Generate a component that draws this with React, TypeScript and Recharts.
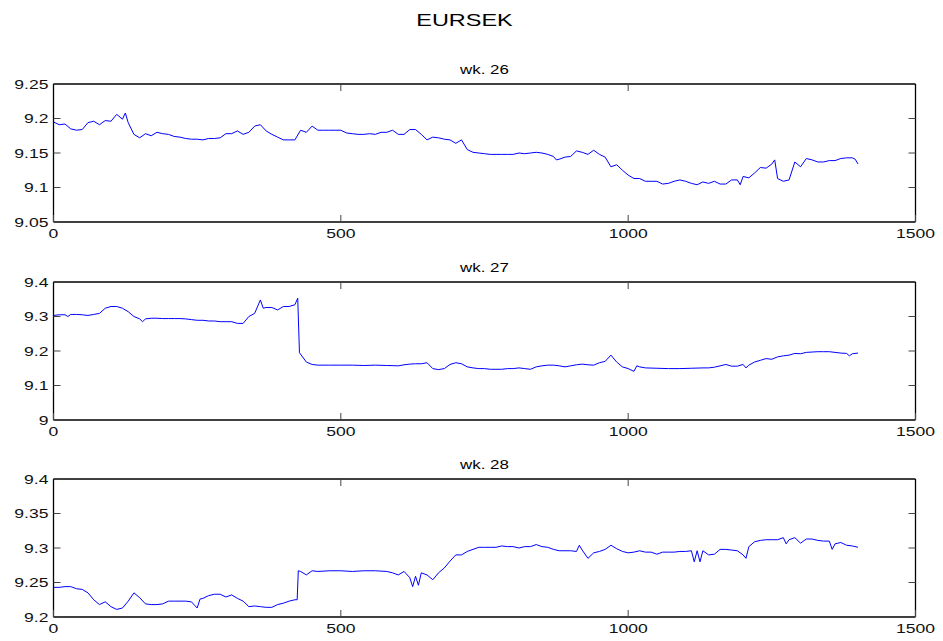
import React from "react";
import { LineChart, Line, XAxis, YAxis } from "recharts";

// sample index (minutes into the week) and EURSEK quotes
const wk26T = [0, 10, 20, 30, 40, 50, 60, 70, 80, 90, 100, 110, 120, 125, 130, 140, 150, 160, 170, 180, 190, 200, 210, 220, 230, 240, 250, 260, 270, 280, 290, 300, 310, 320, 330, 340, 350, 360, 370, 380, 390, 400, 410, 420, 430, 440, 450, 460, 470, 480, 490, 500, 510, 520, 530, 540, 550, 560, 570, 580, 590, 600, 610, 620, 630, 640, 650, 660, 670, 680, 690, 700, 710, 720, 730, 740, 750, 760, 770, 780, 790, 800, 810, 820, 830, 840, 850, 860, 870, 875, 880, 890, 900, 910, 920, 930, 940, 950, 960, 970, 980, 990, 1000, 1010, 1020, 1030, 1040, 1050, 1060, 1070, 1080, 1090, 1100, 1110, 1120, 1130, 1140, 1150, 1160, 1170, 1180, 1190, 1195, 1200, 1210, 1220, 1230, 1240, 1250, 1255, 1260, 1270, 1280, 1290, 1300, 1310, 1320, 1330, 1340, 1350, 1360, 1370, 1380, 1390, 1395, 1400];
const wk26V = [9.195, 9.191, 9.192, 9.185, 9.183, 9.184, 9.194, 9.196, 9.191, 9.197, 9.196, 9.206, 9.199, 9.208, 9.194, 9.177, 9.172, 9.178, 9.175, 9.18, 9.178, 9.177, 9.174, 9.173, 9.171, 9.17, 9.17, 9.169, 9.171, 9.171, 9.172, 9.178, 9.178, 9.182, 9.177, 9.18, 9.189, 9.191, 9.182, 9.177, 9.173, 9.169, 9.169, 9.169, 9.183, 9.18, 9.189, 9.183, 9.183, 9.183, 9.183, 9.183, 9.179, 9.178, 9.177, 9.177, 9.178, 9.177, 9.18, 9.18, 9.183, 9.177, 9.177, 9.184, 9.184, 9.177, 9.169, 9.173, 9.172, 9.17, 9.169, 9.164, 9.169, 9.155, 9.151, 9.15, 9.149, 9.148, 9.148, 9.148, 9.148, 9.148, 9.15, 9.149, 9.15, 9.151, 9.15, 9.148, 9.145, 9.14, 9.141, 9.144, 9.145, 9.153, 9.151, 9.148, 9.154, 9.148, 9.144, 9.13, 9.133, 9.125, 9.118, 9.113, 9.113, 9.109, 9.109, 9.109, 9.105, 9.106, 9.109, 9.111, 9.109, 9.106, 9.104, 9.108, 9.106, 9.109, 9.105, 9.105, 9.111, 9.111, 9.104, 9.116, 9.114, 9.121, 9.129, 9.128, 9.134, 9.14, 9.113, 9.109, 9.111, 9.137, 9.13, 9.142, 9.14, 9.137, 9.137, 9.139, 9.139, 9.142, 9.143, 9.143, 9.141, 9.134];

const wk27T = [0, 10, 20, 25, 30, 40, 50, 60, 70, 80, 90, 100, 110, 120, 130, 140, 150, 155, 160, 170, 180, 190, 200, 210, 220, 230, 240, 250, 260, 270, 280, 290, 300, 310, 320, 330, 340, 350, 360, 365, 370, 380, 390, 400, 410, 420, 425, 428, 440, 450, 460, 480, 500, 520, 540, 560, 580, 600, 610, 620, 630, 640, 650, 660, 670, 680, 690, 700, 710, 720, 730, 740, 750, 760, 770, 780, 790, 800, 810, 820, 830, 840, 850, 860, 870, 880, 890, 900, 910, 920, 930, 940, 950, 960, 970, 980, 990, 1000, 1010, 1015, 1020, 1030, 1050, 1070, 1090, 1110, 1130, 1140, 1150, 1160, 1170, 1180, 1190, 1200, 1205, 1210, 1220, 1230, 1240, 1250, 1260, 1270, 1280, 1290, 1300, 1310, 1320, 1330, 1340, 1350, 1360, 1370, 1380, 1385, 1390, 1400];
const wk27V = [9.303, 9.305, 9.305, 9.3, 9.306, 9.306, 9.305, 9.303, 9.306, 9.309, 9.324, 9.329, 9.329, 9.324, 9.314, 9.3, 9.293, 9.285, 9.293, 9.295, 9.295, 9.294, 9.294, 9.294, 9.294, 9.293, 9.291, 9.289, 9.289, 9.287, 9.287, 9.285, 9.285, 9.285, 9.28, 9.28, 9.3, 9.309, 9.348, 9.324, 9.326, 9.326, 9.319, 9.329, 9.329, 9.334, 9.353, 9.195, 9.168, 9.161, 9.159, 9.159, 9.159, 9.159, 9.158, 9.159, 9.158, 9.157, 9.16, 9.162, 9.163, 9.163, 9.166, 9.149, 9.146, 9.149, 9.161, 9.166, 9.163, 9.154, 9.151, 9.149, 9.149, 9.147, 9.147, 9.147, 9.149, 9.149, 9.151, 9.149, 9.147, 9.154, 9.157, 9.159, 9.159, 9.157, 9.154, 9.157, 9.16, 9.162, 9.16, 9.159, 9.166, 9.17, 9.188, 9.168, 9.154, 9.149, 9.141, 9.157, 9.154, 9.151, 9.15, 9.149, 9.149, 9.15, 9.151, 9.151, 9.153, 9.157, 9.161, 9.156, 9.156, 9.161, 9.151, 9.159, 9.168, 9.173, 9.178, 9.176, 9.183, 9.186, 9.188, 9.193, 9.192, 9.196, 9.197, 9.198, 9.198, 9.198, 9.196, 9.194, 9.193, 9.186, 9.192, 9.194];

const wk28T = [0, 10, 20, 30, 40, 50, 60, 70, 80, 90, 100, 110, 120, 130, 140, 150, 160, 170, 180, 190, 200, 210, 220, 230, 240, 250, 255, 260, 270, 280, 290, 300, 310, 320, 330, 340, 350, 360, 370, 380, 390, 400, 410, 420, 424, 426, 430, 440, 450, 460, 480, 500, 520, 540, 560, 580, 590, 600, 610, 620, 625, 630, 635, 640, 650, 660, 670, 680, 690, 700, 710, 720, 730, 740, 750, 760, 770, 780, 790, 800, 810, 820, 830, 840, 850, 860, 870, 880, 890, 900, 910, 915, 920, 930, 940, 950, 960, 970, 980, 990, 1000, 1010, 1020, 1030, 1040, 1050, 1060, 1070, 1080, 1090, 1100, 1110, 1115, 1120, 1125, 1130, 1140, 1150, 1160, 1170, 1180, 1190, 1200, 1205, 1210, 1220, 1230, 1240, 1250, 1260, 1270, 1275, 1280, 1290, 1300, 1310, 1320, 1330, 1340, 1350, 1355, 1360, 1370, 1380, 1390, 1400];
const wk28V = [9.243, 9.243, 9.244, 9.244, 9.241, 9.24, 9.235, 9.225, 9.218, 9.222, 9.215, 9.211, 9.213, 9.223, 9.235, 9.228, 9.219, 9.218, 9.218, 9.219, 9.223, 9.223, 9.223, 9.223, 9.222, 9.213, 9.226, 9.227, 9.231, 9.233, 9.233, 9.229, 9.232, 9.227, 9.223, 9.215, 9.216, 9.215, 9.214, 9.214, 9.218, 9.22, 9.223, 9.225, 9.225, 9.267, 9.266, 9.261, 9.267, 9.266, 9.267, 9.267, 9.266, 9.267, 9.267, 9.266, 9.264, 9.261, 9.266, 9.257, 9.244, 9.259, 9.246, 9.264, 9.261, 9.254, 9.264, 9.271, 9.281, 9.29, 9.29, 9.295, 9.298, 9.301, 9.301, 9.301, 9.301, 9.303, 9.302, 9.302, 9.3, 9.302, 9.302, 9.305, 9.302, 9.301, 9.298, 9.296, 9.296, 9.296, 9.295, 9.304, 9.297, 9.285, 9.293, 9.295, 9.298, 9.304, 9.299, 9.295, 9.293, 9.294, 9.296, 9.294, 9.294, 9.291, 9.294, 9.294, 9.294, 9.295, 9.295, 9.296, 9.28, 9.296, 9.28, 9.296, 9.29, 9.291, 9.298, 9.298, 9.297, 9.296, 9.29, 9.285, 9.302, 9.309, 9.311, 9.312, 9.312, 9.312, 9.315, 9.306, 9.312, 9.315, 9.307, 9.313, 9.313, 9.311, 9.31, 9.31, 9.298, 9.306, 9.308, 9.304, 9.303, 9.301];

const xTicks = [0, 500, 1000, 1500];
const wk26Ticks = [9.05, 9.1, 9.15, 9.2, 9.25];
const wk27Ticks = [9, 9.1, 9.2, 9.3, 9.4];
const wk28Ticks = [9.2, 9.25, 9.3, 9.35, 9.4];

const FONT = "'Liberation Sans', Arial, Helvetica, sans-serif";
const SX = 1.35; // the original text is stretched horizontally
const TICK = 7; // inward tick length
const TICK_COLOR = "#444";

// ticks point into the plot, MATLAB style; each tick draws its own line
const LeftTick = ({ x, y, payload }: any) => (
  <g>
    <line x1={x + 5} x2={x + 5 + TICK} y1={y} y2={y} stroke={TICK_COLOR} />
    <text
      x={x}
      y={y}
      dy="0.35em"
      textAnchor="end"
      fontSize={13}
      fontFamily={FONT}
      fill="#111"
      transform={`translate(${x} 0) scale(${SX} 1) translate(${-x} 0)`}
    >
      {payload.value}
    </text>
  </g>
);

const BottomTick = ({ x, y, payload }: any) => (
  <g>
    <line x1={x} x2={x} y1={y - 7} y2={y - 7 - TICK} stroke={TICK_COLOR} />
    <text
      x={x}
      y={y}
      dy="0.71em"
      textAnchor="middle"
      fontSize={13}
      fontFamily={FONT}
      fill="#111"
      transform={`translate(${x} 0) scale(${SX} 1) translate(${-x} 0)`}
    >
      {payload.value}
    </text>
  </g>
);

const TopTick = ({ x, y }: any) => (
  <line x1={x} x2={x} y1={y} y2={y + TICK} stroke={TICK_COLOR} />
);

const RightTick = ({ x, y }: any) => (
  <line x1={x} x2={x - TICK} y1={y} y2={y} stroke={TICK_COLOR} />
);

interface PanelProps {
  t: number[];
  v: number[];
  ticks: number[];
  top: number;
}

function Panel({ t, v, ticks, top }: PanelProps) {
  const data = t.map((x, i) => ({ t: x, v: v[i] }));
  const domain = [ticks[0], ticks[ticks.length - 1]];
  const axisLine = { stroke: "#000", strokeWidth: 1.3 };
  return (
    <div style={{ position: "absolute", left: 0, top, width: 943, height: 191 }}>
      <LineChart
        width={943}
        height={191}
        data={data}
        margin={{ top: 23, right: 26.5, bottom: 0, left: 0 }}
      >
        <XAxis
          dataKey="t"
          type="number"
          domain={[0, 1500]}
          ticks={xTicks}
          interval={0}
          height={29}
          axisLine={axisLine}
          tickLine={false}
          tickSize={0}
          tickMargin={7}
          tick={<BottomTick />}
        />
        <XAxis
          xAxisId="top"
          dataKey="t"
          orientation="top"
          type="number"
          domain={[0, 1500]}
          ticks={[500, 1000]}
          interval={0}
          height={1}
          axisLine={axisLine}
          tickLine={false}
          tickSize={0}
          tickMargin={0}
          tick={<TopTick />}
        />
        <YAxis
          type="number"
          domain={domain}
          ticks={ticks}
          interval={0}
          width={53.5}
          axisLine={axisLine}
          tickLine={false}
          tickSize={0}
          tickMargin={5}
          tick={<LeftTick />}
        />
        <YAxis
          yAxisId="right"
          orientation="right"
          type="number"
          domain={domain}
          ticks={ticks.slice(1, -1)}
          interval={0}
          width={1}
          axisLine={axisLine}
          tickLine={false}
          tickSize={0}
          tickMargin={0}
          tick={<RightTick />}
        />
        {/* invisible copy so the top and right axes have a series */}
        <Line
          xAxisId="top"
          yAxisId="right"
          dataKey="v"
          stroke="none"
          dot={false}
          activeDot={false}
          isAnimationActive={false}
        />
        <Line
          type="linear"
          dataKey="v"
          stroke="#0000ff"
          strokeWidth={1}
          dot={false}
          isAnimationActive={false}
        />
      </LineChart>
    </div>
  );
}

export default function App() {
  return (
    <div
      style={{
        position: "absolute",
        left: 0,
        top: 0,
        width: 943,
        height: 641,
        background: "#fff",
        overflow: "hidden",
      }}
    >
      <Panel t={wk26T} v={wk26V} ticks={wk26Ticks} top={60} />
      <Panel t={wk27T} v={wk27V} ticks={wk27Ticks} top={258} />
      <Panel t={wk28T} v={wk28V} ticks={wk28Ticks} top={455} />

      {/* figure title and subplot titles */}
      <svg
        width={943}
        height={641}
        style={{ position: "absolute", left: 0, top: 0, pointerEvents: "none" }}
      >
        <g fontFamily={FONT} fill="#000" textAnchor="middle">
          <text x={464.5} y={25.7} fontSize={17} transform="translate(464.5 0) scale(1.38 1) translate(-464.5 0)">
            EURSEK
          </text>
          <text x={484.5} y={74} fontSize={13} transform="translate(484.5 0) scale(1.3 1) translate(-484.5 0)">
            wk. 26
          </text>
          <text x={484.5} y={272} fontSize={13} transform="translate(484.5 0) scale(1.3 1) translate(-484.5 0)">
            wk. 27
          </text>
          <text x={484.5} y={469} fontSize={13} transform="translate(484.5 0) scale(1.3 1) translate(-484.5 0)">
            wk. 28
          </text>
        </g>
      </svg>
    </div>
  );
}
